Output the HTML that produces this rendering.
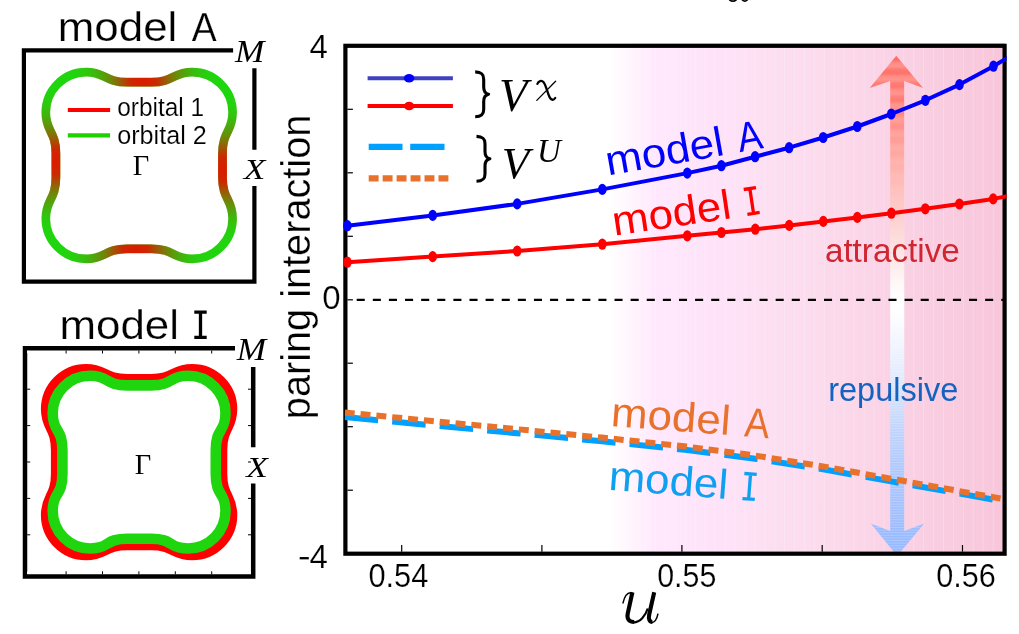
<!DOCTYPE html>
<html><head><meta charset="utf-8"><title>fig</title>
<style>html,body{margin:0;padding:0;background:#fff;overflow:hidden}svg{display:block;will-change:transform;}</style></head>
<body>
<svg width="1019" height="634" viewBox="0 0 1019 634">
<defs>
<linearGradient id="bg" gradientUnits="userSpaceOnUse" x1="609" y1="0" x2="1004" y2="0"><stop offset="0" stop-color="#ffffff"/><stop offset="0.05" stop-color="#fff6fe"/><stop offset="0.12" stop-color="#ffe8fd"/><stop offset="0.3" stop-color="#fee2f7"/><stop offset="0.5" stop-color="#fcdcee"/><stop offset="1" stop-color="#f8c6da"/></linearGradient>
<linearGradient id="ar" gradientUnits="userSpaceOnUse" x1="0" y1="56" x2="0" y2="556"><stop offset="0.0000" stop-color="#ff736c"/><stop offset="0.0068" stop-color="#ff6c64"/><stop offset="0.0137" stop-color="#ff8b85"/><stop offset="0.0205" stop-color="#ff948e"/><stop offset="0.0274" stop-color="#ff7871"/><stop offset="0.0342" stop-color="#ff726a"/><stop offset="0.0411" stop-color="#ff8d86"/><stop offset="0.0479" stop-color="#ff948e"/><stop offset="0.0548" stop-color="#ff7c75"/><stop offset="0.0616" stop-color="#ff776f"/><stop offset="0.0685" stop-color="#ff8f88"/><stop offset="0.0753" stop-color="#ff958f"/><stop offset="0.0822" stop-color="#ff8079"/><stop offset="0.0890" stop-color="#ff7c74"/><stop offset="0.0959" stop-color="#ff928b"/><stop offset="0.1027" stop-color="#ff9892"/><stop offset="0.1096" stop-color="#ff8982"/><stop offset="0.1164" stop-color="#ff8780"/><stop offset="0.1233" stop-color="#ff9993"/><stop offset="0.1301" stop-color="#ff9e99"/><stop offset="0.1370" stop-color="#ff938c"/><stop offset="0.1438" stop-color="#ff928b"/><stop offset="0.1507" stop-color="#ffa09b"/><stop offset="0.1575" stop-color="#ffa5a0"/><stop offset="0.1644" stop-color="#ff9d97"/><stop offset="0.1712" stop-color="#ff9d97"/><stop offset="0.1781" stop-color="#ffa8a3"/><stop offset="0.1849" stop-color="#ffada7"/><stop offset="0.1918" stop-color="#ffa8a2"/><stop offset="0.1987" stop-color="#ffa9a3"/><stop offset="0.2055" stop-color="#ffb1ac"/><stop offset="0.2124" stop-color="#ffb5af"/><stop offset="0.2192" stop-color="#ffb1ac"/><stop offset="0.2261" stop-color="#ffb2ad"/><stop offset="0.2329" stop-color="#feb8b4"/><stop offset="0.2398" stop-color="#febbb7"/><stop offset="0.2466" stop-color="#febab6"/><stop offset="0.2535" stop-color="#febbb7"/><stop offset="0.2603" stop-color="#febfbc"/><stop offset="0.2672" stop-color="#fec2bf"/><stop offset="0.2740" stop-color="#fdc2bf"/><stop offset="0.2809" stop-color="#fdc4c1"/><stop offset="0.2877" stop-color="#fdc7c5"/><stop offset="0.2946" stop-color="#fdc9c7"/><stop offset="0.3014" stop-color="#fdcac9"/><stop offset="0.3083" stop-color="#fdcccb"/><stop offset="0.3283" stop-color="#fdd2d1"/><stop offset="0.3483" stop-color="#fdd8d8"/><stop offset="0.3683" stop-color="#fddddd"/><stop offset="0.3883" stop-color="#fee3e3"/><stop offset="0.4083" stop-color="#fee8e8"/><stop offset="0.4283" stop-color="#feefef"/><stop offset="0.4483" stop-color="#fff5f5"/><stop offset="0.4683" stop-color="#fffbfb"/><stop offset="0.4883" stop-color="#ffffff"/><stop offset="0.5083" stop-color="#fefeff"/><stop offset="0.5283" stop-color="#fcfcff"/><stop offset="0.5483" stop-color="#f7f9fe"/><stop offset="0.5683" stop-color="#f3f6fe"/><stop offset="0.5883" stop-color="#eef3fe"/><stop offset="0.6083" stop-color="#e9f0fe"/><stop offset="0.6283" stop-color="#e5ecfd"/><stop offset="0.6483" stop-color="#e0e9fd"/><stop offset="0.6683" stop-color="#d9e4fc"/><stop offset="0.6883" stop-color="#d2e0fc"/><stop offset="0.7083" stop-color="#ccdcfc"/><stop offset="0.7283" stop-color="#c6d8fc"/><stop offset="0.7483" stop-color="#c0d4fc"/><stop offset="0.7683" stop-color="#bbd1fc"/><stop offset="0.7883" stop-color="#b7cdfc"/><stop offset="0.8083" stop-color="#b2cafc"/><stop offset="0.8283" stop-color="#afc8fc"/><stop offset="0.8483" stop-color="#acc6fd"/><stop offset="0.8683" stop-color="#a9c4fd"/><stop offset="0.8883" stop-color="#a6c2fd"/><stop offset="0.9083" stop-color="#a2c0fe"/><stop offset="0.9283" stop-color="#9fbefe"/><stop offset="0.9483" stop-color="#9bbcff"/><stop offset="0.9683" stop-color="#98baff"/><stop offset="0.9883" stop-color="#97b9ff"/></linearGradient>
<linearGradient id="gtop" gradientUnits="userSpaceOnUse" x1="61.63" y1="0" x2="224.77" y2="0"><stop offset="0.0000" stop-color="#da1c00" stop-opacity="0.000"/><stop offset="0.0143" stop-color="#da1c00" stop-opacity="0.000"/><stop offset="0.0295" stop-color="#da1c00" stop-opacity="0.001"/><stop offset="0.0457" stop-color="#da1c00" stop-opacity="0.002"/><stop offset="0.0627" stop-color="#da1c00" stop-opacity="0.006"/><stop offset="0.0803" stop-color="#da1c00" stop-opacity="0.013"/><stop offset="0.0986" stop-color="#da1c00" stop-opacity="0.023"/><stop offset="0.1173" stop-color="#da1c00" stop-opacity="0.037"/><stop offset="0.1364" stop-color="#da1c00" stop-opacity="0.057"/><stop offset="0.1557" stop-color="#da1c00" stop-opacity="0.082"/><stop offset="0.1751" stop-color="#da1c00" stop-opacity="0.112"/><stop offset="0.1921" stop-color="#da1c00" stop-opacity="0.142"/><stop offset="0.2074" stop-color="#da1c00" stop-opacity="0.173"/><stop offset="0.2213" stop-color="#da1c00" stop-opacity="0.204"/><stop offset="0.2338" stop-color="#da1c00" stop-opacity="0.234"/><stop offset="0.2452" stop-color="#da1c00" stop-opacity="0.263"/><stop offset="0.2558" stop-color="#da1c00" stop-opacity="0.291"/><stop offset="0.2657" stop-color="#da1c00" stop-opacity="0.317"/><stop offset="0.2751" stop-color="#da1c00" stop-opacity="0.344"/><stop offset="0.2843" stop-color="#da1c00" stop-opacity="0.371"/><stop offset="0.2934" stop-color="#da1c00" stop-opacity="0.399"/><stop offset="0.3027" stop-color="#da1c00" stop-opacity="0.429"/><stop offset="0.3123" stop-color="#da1c00" stop-opacity="0.462"/><stop offset="0.3225" stop-color="#da1c00" stop-opacity="0.499"/><stop offset="0.3334" stop-color="#da1c00" stop-opacity="0.542"/><stop offset="0.3453" stop-color="#da1c00" stop-opacity="0.591"/><stop offset="0.3583" stop-color="#da1c00" stop-opacity="0.648"/><stop offset="0.3728" stop-color="#da1c00" stop-opacity="0.712"/><stop offset="0.3888" stop-color="#da1c00" stop-opacity="0.784"/><stop offset="0.4066" stop-color="#da1c00" stop-opacity="0.861"/><stop offset="0.4264" stop-color="#da1c00" stop-opacity="0.938"/><stop offset="0.5000" stop-color="#da1c00" stop-opacity="1.000"/><stop offset="0.5736" stop-color="#da1c00" stop-opacity="0.938"/><stop offset="0.5934" stop-color="#da1c00" stop-opacity="0.861"/><stop offset="0.6112" stop-color="#da1c00" stop-opacity="0.784"/><stop offset="0.6272" stop-color="#da1c00" stop-opacity="0.712"/><stop offset="0.6417" stop-color="#da1c00" stop-opacity="0.648"/><stop offset="0.6547" stop-color="#da1c00" stop-opacity="0.591"/><stop offset="0.6666" stop-color="#da1c00" stop-opacity="0.542"/><stop offset="0.6775" stop-color="#da1c00" stop-opacity="0.499"/><stop offset="0.6877" stop-color="#da1c00" stop-opacity="0.462"/><stop offset="0.6973" stop-color="#da1c00" stop-opacity="0.429"/><stop offset="0.7066" stop-color="#da1c00" stop-opacity="0.399"/><stop offset="0.7157" stop-color="#da1c00" stop-opacity="0.371"/><stop offset="0.7249" stop-color="#da1c00" stop-opacity="0.344"/><stop offset="0.7343" stop-color="#da1c00" stop-opacity="0.317"/><stop offset="0.7442" stop-color="#da1c00" stop-opacity="0.291"/><stop offset="0.7548" stop-color="#da1c00" stop-opacity="0.263"/><stop offset="0.7662" stop-color="#da1c00" stop-opacity="0.234"/><stop offset="0.7787" stop-color="#da1c00" stop-opacity="0.204"/><stop offset="0.7926" stop-color="#da1c00" stop-opacity="0.173"/><stop offset="0.8079" stop-color="#da1c00" stop-opacity="0.142"/><stop offset="0.8249" stop-color="#da1c00" stop-opacity="0.112"/><stop offset="0.8443" stop-color="#da1c00" stop-opacity="0.082"/><stop offset="0.8636" stop-color="#da1c00" stop-opacity="0.057"/><stop offset="0.8827" stop-color="#da1c00" stop-opacity="0.037"/><stop offset="0.9014" stop-color="#da1c00" stop-opacity="0.023"/><stop offset="0.9197" stop-color="#da1c00" stop-opacity="0.013"/><stop offset="0.9373" stop-color="#da1c00" stop-opacity="0.006"/><stop offset="0.9543" stop-color="#da1c00" stop-opacity="0.002"/><stop offset="0.9705" stop-color="#da1c00" stop-opacity="0.001"/><stop offset="0.9857" stop-color="#da1c00" stop-opacity="0.000"/><stop offset="1.0000" stop-color="#da1c00" stop-opacity="0.000"/></linearGradient>
<clipPath id="pc"><rect x="344.7" y="45.8" width="657.8" height="508"/></clipPath><clipPath id="pc2"><rect x="340" y="45.8" width="666.6" height="508"/></clipPath>
</defs>
<rect width="1019" height="634" fill="#fff"/>
<ellipse cx="732.9" cy="-2.6" rx="4.3" ry="3.7" fill="none" stroke="#000" stroke-width="1.7"/><ellipse cx="744.8" cy="-2.6" rx="3.3" ry="3.7" fill="none" stroke="#000" stroke-width="1.7"/>
<rect x="598" y="43" width="406.6" height="510.7" fill="url(#bg)"/>
<rect x="645.1" y="46" width="1" height="507" fill="#fff" fill-opacity="0.22"/><rect x="655.0" y="46" width="1" height="507" fill="#fff" fill-opacity="0.22"/><rect x="665.0" y="46" width="1" height="507" fill="#fff" fill-opacity="0.22"/><rect x="674.9" y="46" width="1" height="507" fill="#fff" fill-opacity="0.22"/><rect x="684.8" y="46" width="1" height="507" fill="#fff" fill-opacity="0.22"/><rect x="694.8" y="46" width="1" height="507" fill="#fff" fill-opacity="0.22"/><rect x="704.7" y="46" width="1" height="507" fill="#fff" fill-opacity="0.22"/><rect x="714.6" y="46" width="1" height="507" fill="#fff" fill-opacity="0.22"/><rect x="724.5" y="46" width="1" height="507" fill="#fff" fill-opacity="0.22"/><rect x="734.5" y="46" width="1" height="507" fill="#fff" fill-opacity="0.22"/><rect x="744.4" y="46" width="1" height="507" fill="#fff" fill-opacity="0.22"/><rect x="754.3" y="46" width="1" height="507" fill="#fff" fill-opacity="0.22"/><rect x="764.3" y="46" width="1" height="507" fill="#fff" fill-opacity="0.22"/><rect x="774.2" y="46" width="1" height="507" fill="#fff" fill-opacity="0.22"/><rect x="784.1" y="46" width="1" height="507" fill="#fff" fill-opacity="0.22"/><rect x="794.0" y="46" width="1" height="507" fill="#fff" fill-opacity="0.22"/><rect x="804.0" y="46" width="1" height="507" fill="#fff" fill-opacity="0.22"/><rect x="813.9" y="46" width="1" height="507" fill="#fff" fill-opacity="0.22"/><rect x="823.8" y="46" width="1" height="507" fill="#fff" fill-opacity="0.22"/><rect x="833.8" y="46" width="1" height="507" fill="#fff" fill-opacity="0.22"/><rect x="843.7" y="46" width="1" height="507" fill="#fff" fill-opacity="0.22"/><rect x="853.6" y="46" width="1" height="507" fill="#fff" fill-opacity="0.22"/><rect x="863.6" y="46" width="1" height="507" fill="#fff" fill-opacity="0.22"/><rect x="873.5" y="46" width="1" height="507" fill="#fff" fill-opacity="0.22"/><rect x="883.4" y="46" width="1" height="507" fill="#fff" fill-opacity="0.22"/><rect x="893.4" y="46" width="1" height="507" fill="#fff" fill-opacity="0.22"/><rect x="903.3" y="46" width="1" height="507" fill="#fff" fill-opacity="0.22"/><rect x="913.2" y="46" width="1" height="507" fill="#fff" fill-opacity="0.22"/><rect x="923.1" y="46" width="1" height="507" fill="#fff" fill-opacity="0.22"/><rect x="933.1" y="46" width="1" height="507" fill="#fff" fill-opacity="0.22"/><rect x="943.0" y="46" width="1" height="507" fill="#fff" fill-opacity="0.22"/><rect x="952.9" y="46" width="1" height="507" fill="#fff" fill-opacity="0.22"/><rect x="962.9" y="46" width="1" height="507" fill="#fff" fill-opacity="0.22"/><rect x="972.8" y="46" width="1" height="507" fill="#fff" fill-opacity="0.22"/><rect x="982.7" y="46" width="1" height="507" fill="#fff" fill-opacity="0.22"/><rect x="992.7" y="46" width="1" height="507" fill="#fff" fill-opacity="0.22"/>
<clipPath id="ac"><path d="M896.3,55.8 L923.1,88 L904.2,81 L904.2,531.1 L924.2,523.6 L897.2,556 L870.8,523.6 L890.2,531.1 L890.2,81 L869.7,88 Z"/></clipPath>
<path d="M896.3,55.8 L923.1,88 L904.2,81 L904.2,531.1 L924.2,523.6 L897.2,556 L870.8,523.6 L890.2,531.1 L890.2,81 L869.7,88 Z" fill="url(#ar)"/>
<g clip-path="url(#ac)"><rect x="868" y="345.0" width="58" height="1" fill="#fff" fill-opacity="0.22"/><rect x="868" y="347.6" width="58" height="1" fill="#fff" fill-opacity="0.22"/><rect x="868" y="350.2" width="58" height="1" fill="#fff" fill-opacity="0.22"/><rect x="868" y="352.8" width="58" height="1" fill="#fff" fill-opacity="0.22"/><rect x="868" y="355.4" width="58" height="1" fill="#fff" fill-opacity="0.22"/><rect x="868" y="358.0" width="58" height="1" fill="#fff" fill-opacity="0.22"/><rect x="868" y="360.6" width="58" height="1" fill="#fff" fill-opacity="0.22"/><rect x="868" y="363.2" width="58" height="1" fill="#fff" fill-opacity="0.22"/><rect x="868" y="365.8" width="58" height="1" fill="#fff" fill-opacity="0.22"/><rect x="868" y="368.4" width="58" height="1" fill="#fff" fill-opacity="0.22"/><rect x="868" y="371.0" width="58" height="1" fill="#fff" fill-opacity="0.22"/><rect x="868" y="373.6" width="58" height="1" fill="#fff" fill-opacity="0.22"/><rect x="868" y="376.2" width="58" height="1" fill="#fff" fill-opacity="0.22"/><rect x="868" y="378.8" width="58" height="1" fill="#fff" fill-opacity="0.22"/><rect x="868" y="381.4" width="58" height="1" fill="#fff" fill-opacity="0.22"/><rect x="868" y="384.0" width="58" height="1" fill="#fff" fill-opacity="0.22"/><rect x="868" y="386.6" width="58" height="1" fill="#fff" fill-opacity="0.22"/><rect x="868" y="389.2" width="58" height="1" fill="#fff" fill-opacity="0.22"/><rect x="868" y="391.8" width="58" height="1" fill="#fff" fill-opacity="0.22"/><rect x="868" y="394.4" width="58" height="1" fill="#fff" fill-opacity="0.22"/><rect x="868" y="397.0" width="58" height="1" fill="#fff" fill-opacity="0.22"/><rect x="868" y="399.6" width="58" height="1" fill="#fff" fill-opacity="0.22"/><rect x="868" y="402.2" width="58" height="1" fill="#fff" fill-opacity="0.22"/><rect x="868" y="404.8" width="58" height="1" fill="#fff" fill-opacity="0.22"/><rect x="868" y="407.4" width="58" height="1" fill="#fff" fill-opacity="0.22"/><rect x="868" y="410.0" width="58" height="1" fill="#fff" fill-opacity="0.22"/><rect x="868" y="412.6" width="58" height="1" fill="#fff" fill-opacity="0.22"/><rect x="868" y="415.2" width="58" height="1" fill="#fff" fill-opacity="0.22"/><rect x="868" y="417.8" width="58" height="1" fill="#fff" fill-opacity="0.22"/><rect x="868" y="420.4" width="58" height="1" fill="#fff" fill-opacity="0.22"/><rect x="868" y="423.0" width="58" height="1" fill="#fff" fill-opacity="0.22"/><rect x="868" y="425.6" width="58" height="1" fill="#fff" fill-opacity="0.22"/><rect x="868" y="428.2" width="58" height="1" fill="#fff" fill-opacity="0.22"/><rect x="868" y="430.8" width="58" height="1" fill="#fff" fill-opacity="0.22"/><rect x="868" y="433.4" width="58" height="1" fill="#fff" fill-opacity="0.22"/><rect x="868" y="436.0" width="58" height="1" fill="#fff" fill-opacity="0.22"/><rect x="868" y="438.6" width="58" height="1" fill="#fff" fill-opacity="0.22"/><rect x="868" y="441.2" width="58" height="1" fill="#fff" fill-opacity="0.22"/><rect x="868" y="443.8" width="58" height="1" fill="#fff" fill-opacity="0.22"/><rect x="868" y="446.4" width="58" height="1" fill="#fff" fill-opacity="0.22"/><rect x="868" y="449.0" width="58" height="1" fill="#fff" fill-opacity="0.22"/><rect x="868" y="451.6" width="58" height="1" fill="#fff" fill-opacity="0.22"/><rect x="868" y="454.2" width="58" height="1" fill="#fff" fill-opacity="0.22"/><rect x="868" y="456.8" width="58" height="1" fill="#fff" fill-opacity="0.22"/><rect x="868" y="459.4" width="58" height="1" fill="#fff" fill-opacity="0.22"/><rect x="868" y="462.0" width="58" height="1" fill="#fff" fill-opacity="0.22"/><rect x="868" y="464.6" width="58" height="1" fill="#fff" fill-opacity="0.22"/><rect x="868" y="467.2" width="58" height="1" fill="#fff" fill-opacity="0.22"/><rect x="868" y="469.8" width="58" height="1" fill="#fff" fill-opacity="0.22"/><rect x="868" y="472.4" width="58" height="1" fill="#fff" fill-opacity="0.22"/><rect x="868" y="475.0" width="58" height="1" fill="#fff" fill-opacity="0.22"/><rect x="868" y="477.6" width="58" height="1" fill="#fff" fill-opacity="0.22"/><rect x="868" y="480.2" width="58" height="1" fill="#fff" fill-opacity="0.22"/><rect x="868" y="482.8" width="58" height="1" fill="#fff" fill-opacity="0.22"/><rect x="868" y="485.4" width="58" height="1" fill="#fff" fill-opacity="0.22"/><rect x="868" y="488.0" width="58" height="1" fill="#fff" fill-opacity="0.22"/><rect x="868" y="490.6" width="58" height="1" fill="#fff" fill-opacity="0.22"/><rect x="868" y="493.2" width="58" height="1" fill="#fff" fill-opacity="0.22"/><rect x="868" y="495.8" width="58" height="1" fill="#fff" fill-opacity="0.22"/><rect x="868" y="498.4" width="58" height="1" fill="#fff" fill-opacity="0.22"/><rect x="868" y="501.0" width="58" height="1" fill="#fff" fill-opacity="0.22"/><rect x="868" y="503.6" width="58" height="1" fill="#fff" fill-opacity="0.22"/><rect x="868" y="506.2" width="58" height="1" fill="#fff" fill-opacity="0.22"/><rect x="868" y="508.8" width="58" height="1" fill="#fff" fill-opacity="0.22"/><rect x="868" y="511.4" width="58" height="1" fill="#fff" fill-opacity="0.22"/><rect x="868" y="514.0" width="58" height="1" fill="#fff" fill-opacity="0.22"/><rect x="868" y="516.6" width="58" height="1" fill="#fff" fill-opacity="0.22"/><rect x="868" y="519.2" width="58" height="1" fill="#fff" fill-opacity="0.22"/><rect x="868" y="521.8" width="58" height="1" fill="#fff" fill-opacity="0.22"/><rect x="868" y="524.4" width="58" height="1" fill="#fff" fill-opacity="0.22"/><rect x="868" y="527.0" width="58" height="1" fill="#fff" fill-opacity="0.22"/><rect x="868" y="529.6" width="58" height="1" fill="#fff" fill-opacity="0.22"/><rect x="868" y="532.2" width="58" height="1" fill="#fff" fill-opacity="0.22"/><rect x="868" y="534.8" width="58" height="1" fill="#fff" fill-opacity="0.22"/><rect x="868" y="537.4" width="58" height="1" fill="#fff" fill-opacity="0.22"/><rect x="868" y="540.0" width="58" height="1" fill="#fff" fill-opacity="0.22"/><rect x="868" y="542.6" width="58" height="1" fill="#fff" fill-opacity="0.22"/><rect x="868" y="545.2" width="58" height="1" fill="#fff" fill-opacity="0.22"/><rect x="868" y="547.8" width="58" height="1" fill="#fff" fill-opacity="0.22"/><rect x="868" y="550.4" width="58" height="1" fill="#fff" fill-opacity="0.22"/></g>
<line x1="348.64" y1="299.85" x2="1003" y2="299.85" stroke="#000" stroke-width="2.3" stroke-dasharray="8.057 8.057" stroke-dashoffset="8.057"/>
<rect x="345.4" y="45.8" width="659.2" height="507.9" fill="none" stroke="#000" stroke-width="4.2"/>
<line x1="347.4" y1="109.3" x2="352.9" y2="109.3" stroke="#000" stroke-width="1.2"/>
<line x1="347.4" y1="172.8" x2="352.9" y2="172.8" stroke="#000" stroke-width="1.2"/>
<line x1="347.4" y1="236.3" x2="352.9" y2="236.3" stroke="#000" stroke-width="1.2"/>
<line x1="347.4" y1="299.8" x2="352.9" y2="299.8" stroke="#000" stroke-width="1.2"/>
<line x1="347.4" y1="363.2" x2="352.9" y2="363.2" stroke="#000" stroke-width="1.2"/>
<line x1="347.4" y1="426.7" x2="352.9" y2="426.7" stroke="#000" stroke-width="1.2"/>
<line x1="347.4" y1="490.2" x2="352.9" y2="490.2" stroke="#000" stroke-width="1.2"/>
<line x1="401.7" y1="551.7" x2="401.7" y2="545.0" stroke="#000" stroke-width="1.2"/>
<line x1="541.9" y1="551.7" x2="541.9" y2="545.0" stroke="#000" stroke-width="1.2"/>
<line x1="681.9" y1="551.7" x2="681.9" y2="545.0" stroke="#000" stroke-width="1.2"/>
<line x1="822.2" y1="551.7" x2="822.2" y2="545.0" stroke="#000" stroke-width="1.2"/>
<line x1="962.5" y1="551.7" x2="962.5" y2="545.0" stroke="#000" stroke-width="1.2"/>
<g clip-path="url(#pc)">
<path d="M344.7,417.1 L432.0,425.3 L517.0,433.2 L602.0,441.3 L687.0,450.0 L755.0,458.7 L823.0,469.3 L891.0,481.4 L959.0,493.5 L1005.0,501.6" fill="none" stroke="#00a0ff" stroke-width="6" stroke-dasharray="33.6 14.1" stroke-dashoffset="0"/>
<path d="M344.7,412.5 L432.0,421.0 L517.0,429.2 L602.0,437.6 L687.0,446.6 L755.0,455.5 L823.0,466.4 L891.0,478.7 L959.0,491.0 L1005.0,499.3" fill="none" stroke="#e8722c" stroke-width="6" stroke-dasharray="10 5.9" stroke-dashoffset="0"/>
</g><g clip-path="url(#pc2)">
<path d="M347.4,225.7 L432.7,215.4 L517.2,203.9 L602.3,189.4 L687.3,173.1 L721.4,165.7 L755.1,156.7 L789.1,147.7 L823.2,137.5 L857.3,126.5 L891.3,114.0 L925.4,100.3 L959.5,84.6 L993.5,66.2 L1008.0,57.4" fill="none" stroke="#0000ff" stroke-width="4" stroke-linejoin="round"/>
<path d="M347.4,262.2 L432.7,256.6 L517.2,251.0 L602.3,244.2 L687.3,235.8 L721.4,232.5 L755.3,229.2 L789.2,225.4 L823.3,221.4 L857.3,217.4 L891.4,213.2 L925.3,208.8 L959.4,204.0 L993.2,198.9 L1008.0,196.0" fill="none" stroke="#ff0000" stroke-width="4" stroke-linejoin="round"/>
</g>
<ellipse cx="347.4" cy="225.7" rx="4.3" ry="5.6" fill="#0000ff"/>
<ellipse cx="432.7" cy="215.4" rx="4.3" ry="5.6" fill="#0000ff"/>
<ellipse cx="517.2" cy="203.9" rx="4.3" ry="5.6" fill="#0000ff"/>
<ellipse cx="602.3" cy="189.4" rx="4.3" ry="5.6" fill="#0000ff"/>
<ellipse cx="687.3" cy="173.1" rx="4.3" ry="5.6" fill="#0000ff"/>
<ellipse cx="721.4" cy="165.7" rx="4.3" ry="5.6" fill="#0000ff"/>
<ellipse cx="755.1" cy="156.7" rx="4.3" ry="5.6" fill="#0000ff"/>
<ellipse cx="789.1" cy="147.7" rx="4.3" ry="5.6" fill="#0000ff"/>
<ellipse cx="823.2" cy="137.5" rx="4.3" ry="5.6" fill="#0000ff"/>
<ellipse cx="857.3" cy="126.5" rx="4.3" ry="5.6" fill="#0000ff"/>
<ellipse cx="891.3" cy="114.0" rx="4.3" ry="5.6" fill="#0000ff"/>
<ellipse cx="925.4" cy="100.3" rx="4.3" ry="5.6" fill="#0000ff"/>
<ellipse cx="959.5" cy="84.6" rx="4.3" ry="5.6" fill="#0000ff"/>
<ellipse cx="993.5" cy="66.2" rx="4.3" ry="5.6" fill="#0000ff"/>
<ellipse cx="347.4" cy="262.2" rx="4.3" ry="5.6" fill="#ff0000"/>
<ellipse cx="432.7" cy="256.6" rx="4.3" ry="5.6" fill="#ff0000"/>
<ellipse cx="517.2" cy="251.0" rx="4.3" ry="5.6" fill="#ff0000"/>
<ellipse cx="602.3" cy="244.2" rx="4.3" ry="5.6" fill="#ff0000"/>
<ellipse cx="687.3" cy="235.8" rx="4.3" ry="5.6" fill="#ff0000"/>
<ellipse cx="721.4" cy="232.5" rx="4.3" ry="5.6" fill="#ff0000"/>
<ellipse cx="755.3" cy="229.2" rx="4.3" ry="5.6" fill="#ff0000"/>
<ellipse cx="789.2" cy="225.4" rx="4.3" ry="5.6" fill="#ff0000"/>
<ellipse cx="823.3" cy="221.4" rx="4.3" ry="5.6" fill="#ff0000"/>
<ellipse cx="857.3" cy="217.4" rx="4.3" ry="5.6" fill="#ff0000"/>
<ellipse cx="891.4" cy="213.2" rx="4.3" ry="5.6" fill="#ff0000"/>
<ellipse cx="925.3" cy="208.8" rx="4.3" ry="5.6" fill="#ff0000"/>
<ellipse cx="959.4" cy="204.0" rx="4.3" ry="5.6" fill="#ff0000"/>
<ellipse cx="993.2" cy="198.9" rx="4.3" ry="5.6" fill="#ff0000"/>
<text x="309.6" y="57.7" font-size="33.0" fill="#000" text-anchor="start" font-family="Liberation Sans, sans-serif"  stroke="#fff" stroke-width="0.20">4</text>
<text x="322.3" y="309.3" font-size="33.0" fill="#000" text-anchor="start" font-family="Liberation Sans, sans-serif"  stroke="#fff" stroke-width="0.20">0</text>
<text x="309.6" y="568.0" font-size="33.0" fill="#000" text-anchor="start" font-family="Liberation Sans, sans-serif"  stroke="#fff" stroke-width="0.20">4</text><line x1="299.7" y1="558.2" x2="308.8" y2="558.2" stroke="#000" stroke-width="2.3"/>
<text x="368.4" y="587.3" font-size="32.5" fill="#000" text-anchor="start" font-family="Liberation Sans, sans-serif"  stroke="#fff" stroke-width="0.20" textLength="60.0" lengthAdjust="spacingAndGlyphs">0.54</text>
<text x="657.2" y="587.3" font-size="32.5" fill="#000" text-anchor="start" font-family="Liberation Sans, sans-serif"  stroke="#fff" stroke-width="0.20" textLength="59.2" lengthAdjust="spacingAndGlyphs">0.55</text>
<text x="936.2" y="587.3" font-size="32.5" fill="#000" text-anchor="start" font-family="Liberation Sans, sans-serif"  stroke="#fff" stroke-width="0.20" textLength="59.6" lengthAdjust="spacingAndGlyphs">0.56</text>
<text transform="translate(310.4,419.2) rotate(-90)" font-size="40" font-family="Liberation Sans, sans-serif" stroke="#fff" stroke-width="0.25" textLength="304.5" lengthAdjust="spacingAndGlyphs">paring interaction</text>
<g transform="translate(-0.2,-0.9)" fill="none" stroke="#000" stroke-linecap="butt" stroke-linejoin="round"><path d="M623.0,604.4 C624.4,598.4 627.2,593.6 630.6,593.6 L632.6,594.4" stroke-width="1.4"/><path d="M632.6,593.2 L627.9,614.6 C626.9,620.3 629.6,622.9 634.4,622.9" stroke-width="4.1"/><path d="M633.4,623.3 C640.4,623.6 645.6,616.6 648.0,609.4" stroke-width="2.2"/><path d="M654.4,593.2 L649.4,615.4 C648.4,620.4 649.9,622.9 652.6,622.9" stroke-width="4.1"/><path d="M651.8,623.4 C655.4,623.6 657.2,619.4 658.2,614.6" stroke-width="1.5"/></g>
<line x1="367.6" y1="78.2" x2="452.9" y2="78.2" stroke="#4040c0" stroke-width="4"/>
<ellipse cx="409.1" cy="78.2" rx="5.2" ry="4.3" fill="#0000ff"/>
<line x1="367.6" y1="106" x2="452.9" y2="106" stroke="#ff0000" stroke-width="4"/>
<ellipse cx="409.1" cy="106" rx="5.2" ry="4.3" fill="#ff0000"/>
<path d="M368.7,146.9 H402.5 M410.2,146.9 H444.5" stroke="#00a0ff" stroke-width="6.2"/>
<line x1="368.7" y1="178.3" x2="448.5" y2="178.3" stroke="#e8722c" stroke-width="6.2" stroke-dasharray="9.9 4.06"/>
<path transform="translate(0.0,0.0)" d="M475.2,71.9 C481.2,72.1 483.7,73.8 483.7,79.2 L483.7,87 C483.7,91.4 485.2,93.6 488.6,94.3 C485.2,95 483.7,97.2 483.7,101.6 L483.7,109.4 C483.7,114.8 481.2,116.5 475.2,116.7" fill="none" stroke="#000" stroke-width="3.1" stroke-linejoin="round"/>
<path transform="translate(1.3,64.5)" d="M475.2,71.9 C481.2,72.1 483.7,73.8 483.7,79.2 L483.7,87 C483.7,91.4 485.2,93.6 488.6,94.3 C485.2,95 483.7,97.2 483.7,101.6 L483.7,109.4 C483.7,114.8 481.2,116.5 475.2,116.7" fill="none" stroke="#000" stroke-width="3.1" stroke-linejoin="round"/>
<text x="499" y="111.3" font-size="46.5" font-style="italic" font-family="Liberation Serif, serif">V</text>
<text x="501.8" y="177.6" font-size="45" font-style="italic" font-family="Liberation Serif, serif">V</text>
<path d="M536.8,100.4 L555.6,81.2" stroke="#000" stroke-width="1.3" fill="none" stroke-linecap="round"/>
<path d="M537.4,83.8 C538.4,80.9 541.6,79.9 543.6,82.2 C546,85 547.3,92.8 549.7,97.4 C551.3,100.4 553.6,100.5 555.2,98" stroke="#000" stroke-width="2.3" fill="none" stroke-linecap="round"/>
<text x="537" y="161.5" font-size="33" font-style="italic" font-family="Liberation Serif, serif">U</text>
<g transform="translate(610.8,175.1) rotate(-10.00)" fill="#0000ff"><text x="-2.9" y="0" font-size="41.5" font-family="Liberation Sans, sans-serif"  textLength="119.5" lengthAdjust="spacingAndGlyphs">model</text><text x="131.0" y="0" font-size="41.5" font-family="Liberation Sans, sans-serif"  textLength="24.9" lengthAdjust="spacingAndGlyphs">A</text></g>
<g transform="translate(617.2,235.4) rotate(-8.50)" fill="#ff0000"><text x="-2.9" y="0" font-size="41.5" font-family="Liberation Sans, sans-serif"  textLength="119.5" lengthAdjust="spacingAndGlyphs">model</text><path d="M131.9,-1.6 H144.3 M131.9,-26.7 H144.3 M138.1,0 V-28.3" stroke="#ff0000" stroke-width="3.3" fill="none"/></g>
<g transform="translate(613.2,426.1) rotate(4.40)" fill="#e8722c"><text x="-2.9" y="0" font-size="41.5" font-family="Liberation Sans, sans-serif"  textLength="119.5" lengthAdjust="spacingAndGlyphs">model</text><text x="131.0" y="0" font-size="41.5" font-family="Liberation Sans, sans-serif"  textLength="24.9" lengthAdjust="spacingAndGlyphs">A</text></g>
<g transform="translate(610.8,490.0) rotate(4.40)" fill="#10a0f0"><text x="-2.9" y="0" font-size="41.5" font-family="Liberation Sans, sans-serif"  textLength="119.5" lengthAdjust="spacingAndGlyphs">model</text><path d="M131.9,-1.6 H144.3 M131.9,-26.7 H144.3 M138.1,0 V-28.3" stroke="#10a0f0" stroke-width="3.3" fill="none"/></g>
<text x="824.9" y="262.0" font-size="33.5" fill="#cf2630" text-anchor="start" font-family="Liberation Sans, sans-serif"  textLength="134.9" lengthAdjust="spacingAndGlyphs">attractive</text>
<text x="828.2" y="401.4" font-size="33.5" fill="#1463c0" text-anchor="start" font-family="Liberation Sans, sans-serif"  textLength="130.2" lengthAdjust="spacingAndGlyphs">repulsive</text>
<path d="M233.1,50.3 H23.9 V281.6 H254.4 V185.9 M254.4,149.8 V68.3" fill="none" stroke="#000" stroke-width="4.2"/>
<g transform="translate(60.7,40.5) rotate(0.00)" fill="#000"><text x="-2.9" y="0" font-size="41.5" font-family="Liberation Sans, sans-serif" stroke="#fff" stroke-width="0.25" textLength="119.5" lengthAdjust="spacingAndGlyphs">model</text><text x="131.0" y="0" font-size="41.5" font-family="Liberation Sans, sans-serif" stroke="#fff" stroke-width="0.25" textLength="24.9" lengthAdjust="spacingAndGlyphs">A</text></g>
<path d="M86.20,72.10 C105.70,72.10 104.50,82.20 127.20,82.20 L151.20,82.20 C173.90,82.20 172.70,72.10 192.20,72.10 A40.40,40.40 0 0 1 232.60,112.50 C232.60,132.00 222.50,130.80 222.50,153.50 L222.50,177.50 C222.50,200.20 232.60,199.00 232.60,218.50 A40.40,40.40 0 0 1 192.20,258.90 C172.70,258.90 173.90,248.80 151.20,248.80 L127.20,248.80 C104.50,248.80 105.70,258.90 86.20,258.90 A40.40,40.40 0 0 1 45.80,218.50 C45.80,199.00 55.90,200.20 55.90,177.50 L55.90,153.50 C55.90,130.80 45.80,132.00 45.80,112.50 A40.40,40.40 0 0 1 86.20,72.10 Z" fill="none" stroke="#1fd60e" stroke-width="8.6"/>
<path transform="rotate(0 139.20 165.50)" d="M57.63,83.93 A40.40,40.40 0 0 1 86.20,72.10 C105.70,72.10 104.50,82.20 127.20,82.20 L151.20,82.20 C173.90,82.20 172.70,72.10 192.20,72.10 A40.40,40.40 0 0 1 220.77,83.93" fill="none" stroke="url(#gtop)" stroke-width="8.8"/>
<path transform="rotate(90 139.20 165.50)" d="M57.63,83.93 A40.40,40.40 0 0 1 86.20,72.10 C105.70,72.10 104.50,82.20 127.20,82.20 L151.20,82.20 C173.90,82.20 172.70,72.10 192.20,72.10 A40.40,40.40 0 0 1 220.77,83.93" fill="none" stroke="url(#gtop)" stroke-width="8.8"/>
<path transform="rotate(180 139.20 165.50)" d="M57.63,83.93 A40.40,40.40 0 0 1 86.20,72.10 C105.70,72.10 104.50,82.20 127.20,82.20 L151.20,82.20 C173.90,82.20 172.70,72.10 192.20,72.10 A40.40,40.40 0 0 1 220.77,83.93" fill="none" stroke="url(#gtop)" stroke-width="8.8"/>
<path transform="rotate(270 139.20 165.50)" d="M57.63,83.93 A40.40,40.40 0 0 1 86.20,72.10 C105.70,72.10 104.50,82.20 127.20,82.20 L151.20,82.20 C173.90,82.20 172.70,72.10 192.20,72.10 A40.40,40.40 0 0 1 220.77,83.93" fill="none" stroke="url(#gtop)" stroke-width="8.8"/>
<line x1="67.8" y1="110" x2="110.1" y2="110" stroke="#ff0000" stroke-width="4.2"/>
<line x1="67.8" y1="135.4" x2="110.1" y2="135.4" stroke="#20d000" stroke-width="4.2"/>
<text x="117.2" y="115.9" font-size="25.5" fill="#000" text-anchor="start" font-family="Liberation Sans, sans-serif"  stroke="#fff" stroke-width="0.15" textLength="87.0" lengthAdjust="spacingAndGlyphs">orbital 1</text>
<text x="117.2" y="143.7" font-size="25.5" fill="#000" text-anchor="start" font-family="Liberation Sans, sans-serif"  stroke="#fff" stroke-width="0.15" textLength="89.6" lengthAdjust="spacingAndGlyphs">orbital 2</text>
<text x="132.8" y="175.4" font-size="28.5" fill="#000" text-anchor="start" font-family="Liberation Serif, serif" >&#915;</text>
<text x="235.0" y="62.4" font-size="31.0" fill="#000" text-anchor="start" font-family="Liberation Serif, serif" font-style="italic" textLength="29.4" lengthAdjust="spacingAndGlyphs">M</text>
<text x="243.8" y="178.8" font-size="30.0" fill="#000" text-anchor="start" font-family="Liberation Serif, serif" font-style="italic" textLength="21.6" lengthAdjust="spacingAndGlyphs">X</text>
<path d="M235,348.3 H25 V576.5 H253.2 V483.6 M253.2,447.3 V367.1" fill="none" stroke="#000" stroke-width="4.5"/>
<path d="M66.1,350.5 V353.5 M66.1,574.3 V571.3 M27.2,389.2 H30.2 M251,389.2 H248 M102.5,350.5 V353.5 M102.5,574.3 V571.3 M27.2,425.6 H30.2 M251,425.6 H248 M138.9,350.5 V353.5 M138.9,574.3 V571.3 M27.2,462.0 H30.2 M251,462.0 H248 M175.3,350.5 V353.5 M175.3,574.3 V571.3 M27.2,498.4 H30.2 M251,498.4 H248 M211.7,350.5 V353.5 M211.7,574.3 V571.3 M27.2,534.8 H30.2 M251,534.8 H248 " stroke="#000" stroke-width="1" fill="none"/>
<g transform="translate(62.4,338.9) rotate(0.00)" fill="#000"><text x="-2.9" y="0" font-size="41.5" font-family="Liberation Sans, sans-serif" stroke="#fff" stroke-width="0.25" textLength="119.5" lengthAdjust="spacingAndGlyphs">model</text><path d="M131.9,-1.6 H144.3 M131.9,-26.7 H144.3 M138.1,0 V-28.3" stroke="#000" stroke-width="3.3" fill="none"/></g>
<path d="M27,571.6 h2.2 v2.4 h-2.2 z M27,350.8 h2.2 v2.2 h-2.2 z M248.8,571.6 h2.2 v2.4 h-2.2 z" fill="#fff"/>
<path d="M86.10,368.90 C105.60,368.90 104.40,378.90 127.10,378.90 L151.10,378.90 C173.80,378.90 172.60,368.90 192.10,368.90 A40.20,40.20 0 0 1 232.30,409.10 C232.30,428.60 222.30,427.40 222.30,450.10 L222.30,474.10 C222.30,496.80 232.30,495.60 232.30,515.10 A40.20,40.20 0 0 1 192.10,555.30 C172.60,555.30 173.80,545.30 151.10,545.30 L127.10,545.30 C104.40,545.30 105.60,555.30 86.10,555.30 A40.20,40.20 0 0 1 45.90,515.10 C45.90,495.60 55.90,496.80 55.90,474.10 L55.90,450.10 C55.90,427.40 45.90,428.60 45.90,409.10 A40.20,40.20 0 0 1 86.10,368.90 Z" fill="none" stroke="#ff0000" stroke-width="10"/>
<path d="M90.10,375.70 C109.60,375.70 104.40,385.40 127.10,385.40 L151.10,385.40 C173.80,385.40 168.60,375.70 188.10,375.70 A37.40,37.40 0 0 1 225.50,413.10 C225.50,432.60 215.80,427.40 215.80,450.10 L215.80,474.10 C215.80,496.80 225.50,491.60 225.50,511.10 A37.40,37.40 0 0 1 188.10,548.50 C168.60,548.50 173.80,538.80 151.10,538.80 L127.10,538.80 C104.40,538.80 109.60,548.50 90.10,548.50 A37.40,37.40 0 0 1 52.70,511.10 C52.70,491.60 62.40,496.80 62.40,474.10 L62.40,450.10 C62.40,427.40 52.70,432.60 52.70,413.10 A37.40,37.40 0 0 1 90.10,375.70 Z" fill="none" stroke="#1fd60e" stroke-width="10.6"/>
<text x="134.8" y="473.7" font-size="28.5" fill="#000" text-anchor="start" font-family="Liberation Serif, serif" >&#915;</text>
<text x="236.8" y="359.6" font-size="31.0" fill="#000" text-anchor="start" font-family="Liberation Serif, serif" font-style="italic" textLength="29.4" lengthAdjust="spacingAndGlyphs">M</text>
<text x="246.3" y="476.9" font-size="30.0" fill="#000" text-anchor="start" font-family="Liberation Serif, serif" font-style="italic" textLength="21.6" lengthAdjust="spacingAndGlyphs">X</text>
</svg>
</body></html>
